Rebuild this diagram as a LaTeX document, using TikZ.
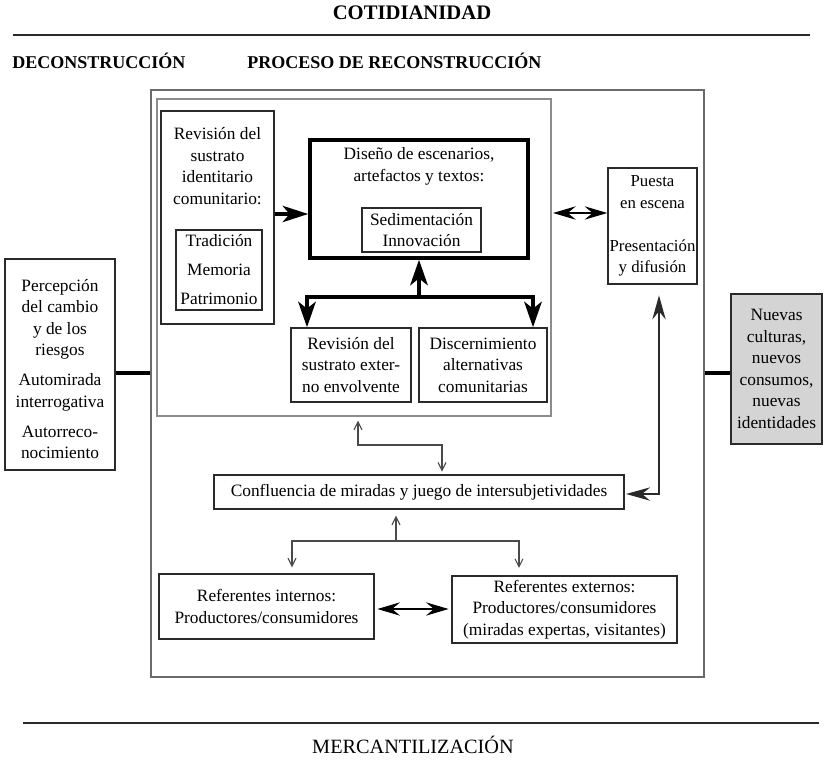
\documentclass[tikz,border=0pt]{standalone}
\usepackage{fontspec}
\setmainfont{Liberation Serif}
\usetikzlibrary{arrows.meta}
\definecolor{outerc}{HTML}{6A6A6A}
\definecolor{innerc}{HTML}{8C8C8C}
\definecolor{boxc}{HTML}{2A2A2A}
\definecolor{thinc}{HTML}{4A4A4A}
\definecolor{nuevfill}{HTML}{D4D4D4}
\tikzset{
  tipT/.tip={Stealth[length=19pt,width=13pt,inset=5pt]},
  tipR/.tip={Stealth[length=19pt,width=12pt,inset=5pt]},
  tipD/.tip={Stealth[length=17pt,width=10pt,inset=6pt]},
  tipM/.tip={Stealth[length=18pt,width=10pt,inset=6pt]},
  tipB/.tip={Straight Barb[length=6pt,width=6pt]}
}
\begin{document}
\begin{tikzpicture}[x=0.75pt,y=-0.75pt,
  txt/.style={font=\fontsize{13}{16.1}\selectfont, align=center, inner sep=0pt},
  head/.style={font=\bfseries\fontsize{13.5}{16}\selectfont, inner sep=0pt},
  frame/.style={draw=boxc, line width=1.1pt, inner sep=0pt},
  wh/.style 2 args={minimum width={#1*0.75pt}, minimum height={#2*0.75pt}},
  rulel/.style={draw=boxc, line width=2.2pt},
  thickT/.style={draw=black, line width=3.3pt, line join=miter},
  dblarrow/.style={draw=black, line width=0.8pt, tipD-tipD},
  medarrow/.style={draw=boxc, line width=1.2pt, tipM-tipM},
  barb/.style={draw=thinc, line width=0.8pt}
]
\useasboundingbox (0,0) rectangle (824,763);

% headings and rules
\node[head, font=\bfseries\fontsize{15.5}{16}\selectfont, anchor=base] (cot) at (412,20) {COTIDIANIDAD};
\coordinate (rt1) at (13,35);
\coordinate (rt2) at (810,35);
\draw[rulel] (rt1) -- (rt2);
\node[head, anchor=base west] (dec) at (12,69) {DECONSTRUCCIÓN};
\node[head, anchor=base west] (proc) at (247,69) {PROCESO DE RECONSTRUCCIÓN};
\coordinate (rb1) at (23,723);
\coordinate (rb2) at (819,723);
\draw[rulel] (rb1) -- (rb2);
\node[txt, font=\fontsize{15.2}{16}\selectfont, anchor=base] (merc) at (413,753) {MERCANTILIZACIÓN};

% frames
\node[draw=outerc, line width=2.2pt, inner sep=0pt, wh={553}{587}] (outer) at (427.5,383.5) {};
\node[draw=innerc, line width=1.1pt, inner sep=0pt, wh={394}{317}] (inner) at (354,257.5) {};

% left column of inner box
\node[frame, wh={113}{213}] (rev) at (217.5,217.5) {};
\node[txt] (revt) at (217.5,166) {Revisión del\\sustrato\\identitario\\comunitario:};
\node[frame, txt, font=\fontsize{13}{21.75}\selectfont, wh={86}{80}] (trad) at (219,270) {Tradición\\Memoria\\Patrimonio};

% design box
\node[draw=black, line width=2.6pt, inner sep=0pt, wh={218}{118}] (dis) at (419,199) {};
\node[txt] (dist) at (419,166.5) {Diseño de escenarios,\\artefactos y textos:};
\node[frame, txt, wh={119}{44}] (sed) at (421.5,230) {Sedimentación\\Innovación};

\node[frame, txt, wh={120}{74}] (rext) at (351,365) {Revisión del\\sustrato exter-\\no envolvente};
\node[frame, txt, wh={128}{74}] (disc) at (483,365) {Discernimiento\\alternativas\\comunitarias};

% right
\node[frame, txt, font=\fontsize{12.6}{16.1}\selectfont, wh={89}{116}] (pue) at (652.5,226) {Puesta\\en escena\\[16pt]Presentación\\y difusión};
\node[frame, txt, fill=nuevfill, wh={91}{150}] (nue) at (776.5,369) {Nuevas\\culturas,\\nuevos\\consumos,\\nuevas\\identidades};

% left
\node[frame, wh={110}{211}] (perc) at (60,364.5) {};
\node[txt] (perct) at (60,369) {Percepción\\del cambio\\y de los\\riesgos\\[6.5pt]Automirada\\interrogativa\\[6.5pt]Autorreco-\\nocimiento};

% lower
\node[frame, txt, wh={410}{34}] (conf) at (419,492) {Confluencia de miradas y juego de intersubjetividades};
\node[frame, txt, wh={215}{65}] (rint) at (266.5,606.5) {Referentes internos:\\Productores/consumidores};
\node[frame, txt, wh={225}{67}] (rex2) at (564.5,609.5) {Referentes externos:\\Productores/consumidores\\(miradas expertas, visitantes)};

% side connectors
\coordinate (sy) at (0,373);
\draw[draw=black, line width=3pt] (perc.east |- sy) -- (outer.west |- sy);
\draw[draw=black, line width=3pt] (outer.east |- sy) -- (nue.west |- sy);

% thick arrows
\coordinate (ay) at (0,214);
\draw[thickT, -tipR] (rev.east |- ay) -- (dis.west |- ay);
\coordinate (tj) at (419,297);
\coordinate (tl) at (307,297);
\coordinate (tr) at (533,297);
\draw[thickT, -tipT] (tj) -- (dis.south);
\draw[thickT, tipT-tipT] (rext.north -| tl) -- (tl) -- (tr) -- (disc.north -| tr);

% double arrows
\coordinate (dy) at (0,213);
\draw[dblarrow, shorten <=1pt] (inner.east |- dy) -- (pue.west |- dy);
\coordinate (ry) at (0,609);
\draw[dblarrow, shorten <=2pt, shorten >=2pt] (rint.east |- ry) -- (rex2.west |- ry);

% confluencia to puesta
\coordinate (pc) at (659,494);
\draw[medarrow, shorten <=8pt, shorten >=1pt] (pue.south -| pc) -- (pc) -- (conf.east |- pc);

% thin barbed connectors
\coordinate (c1) at (358,445);
\coordinate (c2) at (442,445);
\draw[barb, tipB-tipB, shorten <=3pt, shorten >=2pt] (inner.south -| c1) -- (c1) -- (c2) -- (conf.north -| c2);
\coordinate (cj) at (396,541);
\coordinate (cl) at (292,541);
\coordinate (cr) at (519,541);
\draw[barb, -tipB, shorten >=4.5pt] (cj) -- (conf.south -| cj);
\draw[barb, tipB-tipB, shorten <=4.5pt, shorten >=5.5pt] (rint.north -| cl) -- (cl) -- (cr) -- (rex2.north -| cr);
\end{tikzpicture}
\end{document}
